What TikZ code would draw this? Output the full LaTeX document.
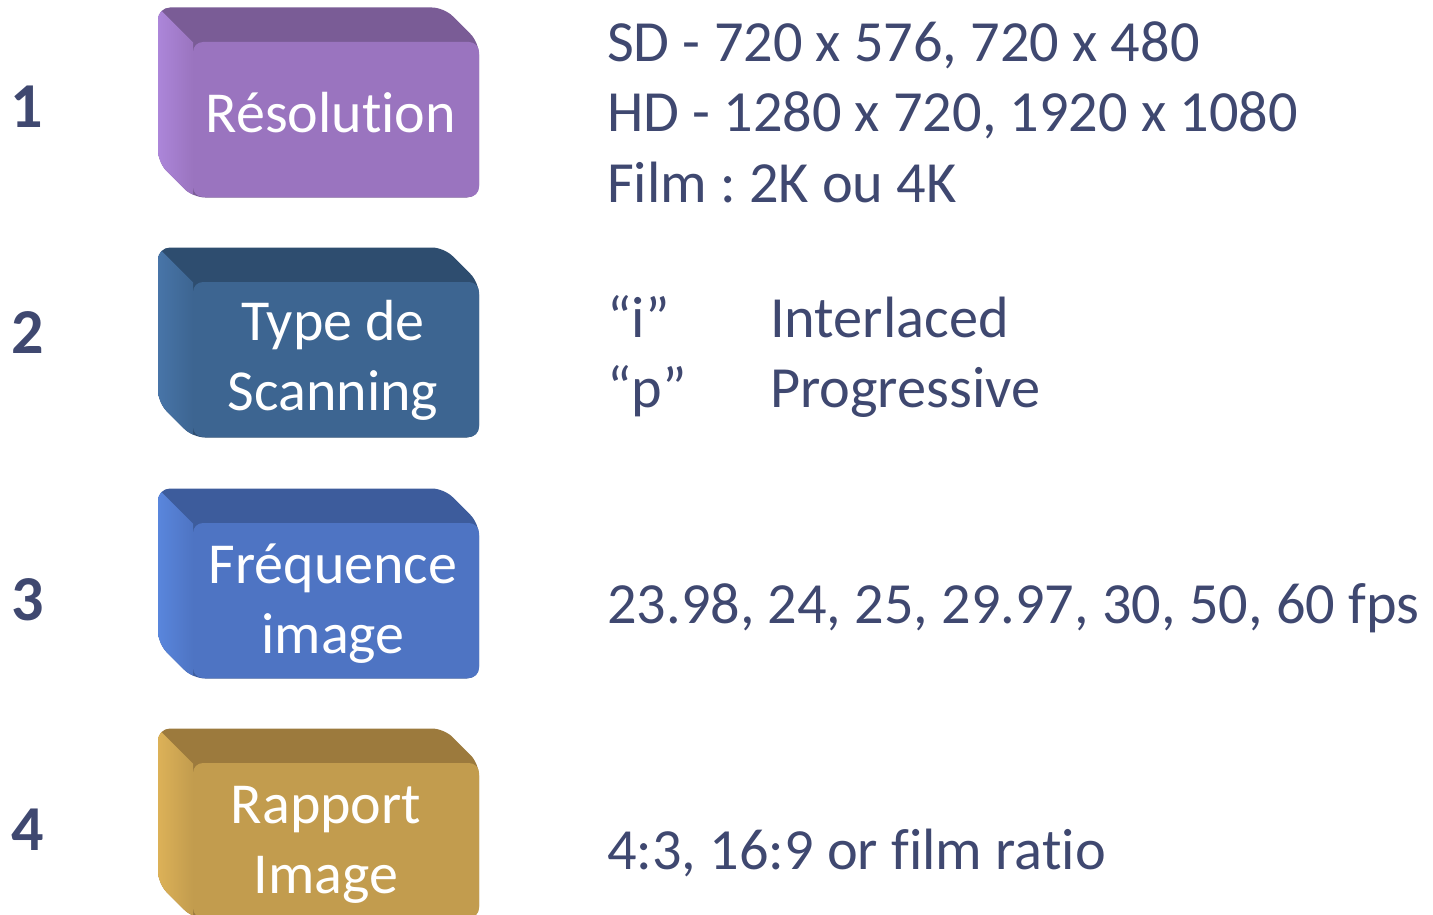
\documentclass[tikz,border=0pt]{standalone}
\usepackage{fontspec}
\setmainfont{Carlito}[Ligatures={NoCommon,NoContextual}]
\frenchspacing
\definecolor{ink}{HTML}{3F4870}
% box palettes: front, top, side highlight
\definecolor{purpleF}{HTML}{9A74BF}
\definecolor{purpleT}{HTML}{7A5C96}
\definecolor{purpleS}{HTML}{B08ADF}
\definecolor{steelF}{HTML}{3D6591}
\definecolor{steelT}{HTML}{2E4D6F}
\definecolor{steelS}{HTML}{4A78AD}
\definecolor{blueF}{HTML}{4E74C3}
\definecolor{blueT}{HTML}{3D5C9C}
\definecolor{blueS}{HTML}{5C8AE2}
\definecolor{goldF}{HTML}{C29C4E}
\definecolor{goldT}{HTML}{9C7A3D}
\definecolor{goldS}{HTML}{E2B65A}
\tikzset{
  boxtext/.style={text=white, inner sep=0pt, align=center,
    font=\fontsize{58}{70}\selectfont},
  numlabel/.style={text=ink, inner sep=0pt, font=\fontsize{64}{70}\selectfont\bfseries},
  detail/.style={text=ink, inner sep=0pt, anchor=base west, font=\fontsize{58.3}{70}\selectfont},
}
% extruded block: centre x, centre y, front, top, side
\newcommand\extrudebox[5]{%
  \begin{scope}[shift={(#1,#2)}]
    \fill[#4, rounded corners=12pt]
      (-178,-112) -- (108,-112) -- (143,-77) -- (143,78) -- (-143,78) -- (-178,43) -- cycle;
    \begin{scope}
      \clip[rounded corners=12pt]
        (-178,-112) -- (108,-112) -- (143,-77) -- (143,78) -- (-143,78) -- (-178,43) -- cycle;
      \shade[left color=#5, right color=#3]
        (-186,-120) -- (-143,-77) -- (-143,86) -- (-186,86) -- cycle;
    \end{scope}
    \fill[#3, rounded corners=10pt] (-143,-77.5) rectangle (143,77.5);
  \end{scope}}
\begin{document}
\begin{tikzpicture}[x=1pt, y=-1pt]
  \useasboundingbox (0,0) rectangle (1433,915);
  % coloured blocks
  \extrudebox{336}{119.5}{purpleF}{purpleT}{purpleS}
  \extrudebox{336}{359.5}{steelF}{steelT}{steelS}
  \extrudebox{336}{600.5}{blueF}{blueT}{blueS}
  \extrudebox{336}{840.5}{goldF}{goldT}{goldS}
  \node[boxtext, anchor=base] (res) at (331,133) {Résolution};
  \node[boxtext] (scan) at (333,360) {Type de\\Scanning};
  \node[boxtext] (freq) at (333,604) {Fréquence\\image};
  \node[boxtext] (ratio) at (326,845) {Rapport\\Image};
  % row numbers
  \node[numlabel] (n1) at (27,107) {1};
  \node[numlabel] (n2) at (28,333) {2};
  \node[numlabel] (n3) at (28,600) {3};
  \node[numlabel] (n4) at (28,830) {4};
  % details
  \node[detail] (sd)   at (607,62)  {SD - 720 x 576, 720 x 480};
  \node[detail] (hd)   at (607,132) {HD - 1280 x 720, 1920 x 1080};
  \node[detail] (film) at (607,202) {Film : 2K ou 4K};
  \node[detail] (qi)   at (607,337) {“i”};
  \node[detail] (inter) at (770,337) {Interlaced};
  \node[detail] (qp)   at (607,407) {“p”};
  \node[detail] (prog) at (770,407) {Progressive};
  \node[detail] (fps)  at (607,623) {23.98, 24, 25, 29.97, 30, 50, 60 fps};
  \node[detail] (ar)   at (607,869) {4:3, 16:9 or film ratio};
\end{tikzpicture}
\end{document}
